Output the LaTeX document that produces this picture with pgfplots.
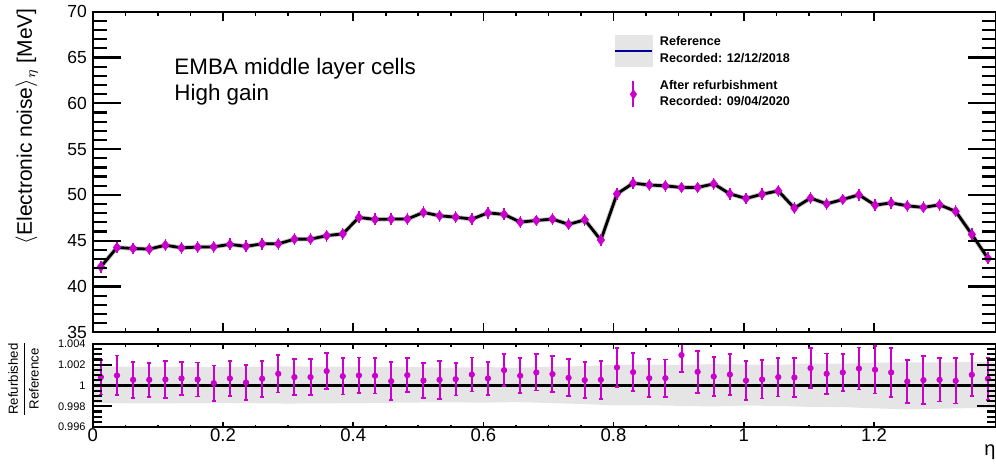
\documentclass[border=0pt]{standalone}
\usepackage{fontspec}
\setmainfont{Liberation Sans}
\usepackage{pgfplots}
\pgfplotsset{compat=1.18}
\usepackage{pgfplotstable}
\definecolor{mag}{RGB}{204,0,204}
\definecolor{bandgray}{RGB}{229,229,229}
\definecolor{refblue}{RGB}{0,0,153}

\pgfplotsset{
  toppanel/.style={
    at={(46.4pt,-5.85pt)}, anchor=north west,
    scale only axis, width=451.6pt, height=160.3pt,
    xmin=0, xmax=1.3875, ymin=35, ymax=70,
    axis line style={line width=1pt},
    tick align=inside,
    /pgf/number format/assume math mode=true,
  },
  botpanel/.style={
    at={(46.4pt,-172pt)}, anchor=north west,
    scale only axis, width=451.6pt, height=41.5pt,
    xmin=0, xmax=1.3875, ymin=0.996, ymax=1.004,
    axis line style={line width=1pt},
    tick align=inside,
    /pgf/number format/assume math mode=true,
  },
}

\pgfplotstableread{
x y
0.01239 42.15
0.03717 44.26
0.06194 44.15
0.08672 44.08
0.11150 44.51
0.13627 44.22
0.16105 44.30
0.18583 44.33
0.21060 44.60
0.23538 44.38
0.26016 44.66
0.28493 44.66
0.30971 45.17
0.33449 45.17
0.35926 45.55
0.38404 45.75
0.40882 47.54
0.43359 47.32
0.45837 47.36
0.48315 47.36
0.50792 48.09
0.53270 47.72
0.55748 47.57
0.58225 47.36
0.60703 48.04
0.63181 47.87
0.65658 47.03
0.68136 47.21
0.70614 47.36
0.73091 46.78
0.75569 47.28
0.78047 45.07
0.80525 50.11
0.83002 51.28
0.85480 51.08
0.87958 50.99
0.90435 50.81
0.92913 50.81
0.95391 51.21
0.97868 50.11
1.00346 49.61
1.02824 50.08
1.05301 50.44
1.07779 48.56
1.10257 49.65
1.12734 49.02
1.15212 49.50
1.17690 50.01
1.20167 48.88
1.22645 49.13
1.25123 48.81
1.27600 48.63
1.30078 48.92
1.32556 48.20
1.35033 45.69
1.37511 43.07
}\noisetab

% ratio (refurbished / reference) per bin
\pgfplotstableread{
x r
0.01239 1.00081
0.03717 1.00097
0.06194 1.00055
0.08672 1.00055
0.11150 1.00058
0.13627 1.00068
0.16105 1.00058
0.18583 1.00023
0.21060 1.00068
0.23538 1.00029
0.26016 1.00065
0.28493 1.00113
0.30971 1.00081
0.33449 1.00081
0.35926 1.00139
0.38404 1.00090
0.40882 1.00097
0.43359 1.00094
0.45837 1.00042
0.48315 1.00100
0.50792 1.00048
0.53270 1.00055
0.55748 1.00061
0.58225 1.00106
0.60703 1.00068
0.63181 1.00148
0.65658 1.00094
0.68136 1.00126
0.70614 1.00110
0.73091 1.00074
0.75569 1.00052
0.78047 1.00055
0.80525 1.00174
0.83002 1.00129
0.85480 1.00071
0.87958 1.00071
0.90435 1.00293
0.92913 1.00132
0.95391 1.00087
0.97868 1.00106
1.00346 1.00048
1.02824 1.00058
1.05301 1.00081
1.07779 1.00077
1.10257 1.00168
1.12734 1.00113
1.15212 1.00126
1.17690 1.00164
1.20167 1.00152
1.22645 1.00126
1.25123 1.00039
1.27600 1.00052
1.30078 1.00055
1.32556 1.00045
1.35033 1.00103
1.37511 1.00065
}\ratiotab

% error bar ends (lower, upper) per bin, separated by nan
\pgfplotstableread{
x y
0.01239 0.99913
0.01239 1.00249
0.01239 nan
0.03717 0.99905
0.03717 1.00289
0.03717 nan
0.06194 0.99883
0.06194 1.00227
0.06194 nan
0.08672 0.99891
0.08672 1.00219
0.08672 nan
0.11150 0.99876
0.11150 1.00240
0.11150 nan
0.13627 0.99907
0.13627 1.00229
0.13627 nan
0.16105 0.99894
0.16105 1.00222
0.16105 nan
0.18583 0.99854
0.18583 1.00192
0.18583 nan
0.21060 0.99902
0.21060 1.00234
0.21060 nan
0.23538 0.99861
0.23538 1.00197
0.23538 nan
0.26016 0.99893
0.26016 1.00237
0.26016 nan
0.28493 0.99933
0.28493 1.00293
0.28493 nan
0.30971 0.99907
0.30971 1.00255
0.30971 nan
0.33449 0.99907
0.33449 1.00255
0.33449 nan
0.35926 0.99965
0.35926 1.00313
0.35926 nan
0.38404 0.99914
0.38404 1.00266
0.38404 nan
0.40882 0.99925
0.40882 1.00269
0.40882 nan
0.43359 0.99923
0.43359 1.00265
0.43359 nan
0.45837 0.99857
0.45837 1.00227
0.45837 nan
0.48315 0.99936
0.48315 1.00264
0.48315 nan
0.50792 0.99882
0.50792 1.00214
0.50792 nan
0.53270 0.99870
0.53270 1.00240
0.53270 nan
0.55748 0.99903
0.55748 1.00219
0.55748 nan
0.58225 0.99942
0.58225 1.00270
0.58225 nan
0.60703 0.99908
0.60703 1.00228
0.60703 nan
0.63181 0.99996
0.63181 1.00300
0.63181 nan
0.65658 0.99926
0.65658 1.00262
0.65658 nan
0.68136 0.99952
0.68136 1.00300
0.68136 nan
0.70614 0.99936
0.70614 1.00284
0.70614 nan
0.73091 0.99895
0.73091 1.00253
0.73091 nan
0.75569 0.99878
0.75569 1.00226
0.75569 nan
0.78047 0.99871
0.78047 1.00239
0.78047 nan
0.80525 0.99984
0.80525 1.00364
0.80525 nan
0.83002 0.99947
0.83002 1.00311
0.83002 nan
0.85480 0.99890
0.85480 1.00252
0.85480 nan
0.87958 0.99892
0.87958 1.00250
0.87958 nan
0.90435 1.00132
0.90435 1.00454
0.90435 nan
0.92913 0.99931
0.92913 1.00333
0.92913 nan
0.95391 0.99900
0.95391 1.00274
0.95391 nan
0.97868 0.99905
0.97868 1.00307
0.97868 nan
1.00346 0.99863
1.00346 1.00233
1.00346 nan
1.02824 0.99874
1.02824 1.00242
1.02824 nan
1.05301 0.99894
1.05301 1.00268
1.05301 nan
1.07779 0.99890
1.07779 1.00264
1.07779 nan
1.10257 0.99978
1.10257 1.00358
1.10257 nan
1.12734 0.99918
1.12734 1.00308
1.12734 nan
1.15212 0.99945
1.15212 1.00307
1.15212 nan
1.17690 0.99961
1.17690 1.00367
1.17690 nan
1.20167 0.99922
1.20167 1.00382
1.20167 nan
1.22645 0.99891
1.22645 1.00361
1.22645 nan
1.25123 0.99831
1.25123 1.00247
1.25123 nan
1.27600 0.99823
1.27600 1.00281
1.27600 nan
1.30078 0.99845
1.30078 1.00265
1.30078 nan
1.32556 0.99826
1.32556 1.00264
1.32556 nan
1.35033 0.99902
1.35033 1.00304
1.35033 nan
1.37511 0.99862
1.37511 1.00268
1.37511 nan
}\errtab

\pgfplotstableread{
x y
0 1.00182
0.1 1.00180
0.2 1.00178
0.3 1.00184
0.4 1.00180
0.5 1.00176
0.55 1.00172
0.6 1.00178
0.65 1.00172
0.7 1.00180
0.75 1.00186
0.8 1.00198
0.85 1.00202
0.9 1.00196
0.95 1.00206
1.0 1.00202
1.05 1.00198
1.1 1.00212
1.15 1.00210
1.2 1.00220
1.25 1.00224
1.3 1.00222
1.35 1.00226
1.3875 1.00224
1.3875 0.99778
1.35 0.99782
1.3 0.99776
1.25 0.99770
1.2 0.99780
1.15 0.99792
1.1 0.99794
1.05 0.99804
1.0 0.99806
0.95 0.99798
0.9 0.99804
0.85 0.99810
0.8 0.99808
0.75 0.99822
0.7 0.99832
0.65 0.99840
0.6 0.99834
0.55 0.99838
0.5 0.99836
0.4 0.99830
0.3 0.99826
0.2 0.99832
0.1 0.99828
0 0.99830
}\bandtab

\begin{document}
\begin{tikzpicture}
\path[use as bounding box] (0pt,0pt) rectangle (498pt,-233pt);

% ---------- top panel: data + x ticks ----------
\begin{axis}[toppanel,
  xtick={0,0.2,0.4,0.6,0.8,1,1.2}, xticklabels={},
  minor x tick num=3,
  ytick=\empty,
  major tick length=4.5pt, minor tick length=2.25pt,
  every tick/.append style={line width=0.8pt, black},
  legend style={at={(0.577,0.927)}, anchor=north west, draw=none, fill=none,
    inner sep=0pt, outer sep=0pt, row sep=6.5pt, column sep=3.5pt,
    font=\fontsize{6.3}{8.35}\selectfont\bfseries,
    nodes={inner sep=0pt}, cells={align=left}},
  legend cell align=left,
]
\addlegendimage{legend image code/.code={\fill[bandgray] (0pt,-7.75pt) rectangle (18.5pt,7.75pt); \draw[refblue, line width=1pt] (0pt,0pt) -- (18.5pt,0pt);}}
\addlegendentry{Reference\\Recorded: 12/12/2018}
\addlegendimage{legend image code/.code={\draw[mag, line width=1pt] (9.25pt,-6.5pt) -- (9.25pt,6.5pt); \fill[mag] (9.25pt,-2.2pt) -- (10.8pt,0pt) -- (9.25pt,2.2pt) -- (7.7pt,0pt) -- cycle;}}
\addlegendentry{After refurbishment\\Recorded: 09/04/2020}

\addplot[gray!45, line width=2.3pt, forget plot] table[x=x,y=y]{\noisetab};
\addplot[black, line width=1.4pt, forget plot] table[x=x,y=y]{\noisetab};
\addplot[only marks, mark=diamond*, mark size=2.4pt, color=mag, forget plot,
  mark options={draw=mag, fill=mag},
  error bars/.cd, y dir=both, y fixed=0.65,
  error bar style={line width=0.7pt, draw=mag}, error mark=none]
  table[x=x,y=y]{\noisetab};
\end{axis}

% ---------- top panel: y tick labels ----------
\begin{axis}[toppanel,
  xtick=\empty,
  ytick={35,40,45,50,55,60,65,70},
  yticklabel pos=left,
  major tick length=0pt,
  yticklabel style={font=\fontsize{8.75}{10}\selectfont, inner sep=0pt, xshift=-2.75pt},
]
\end{axis}

% ---------- ratio panel: data + x ticks ----------
\begin{axis}[botpanel,
  xtick={0,0.2,0.4,0.6,0.8,1,1.2}, xticklabels={0,0.2,0.4,0.6,0.8,1,1.2},
  minor x tick num=3,
  xticklabel pos=left,
  ytick=\empty,
  major tick length=2.5pt, minor tick length=1.25pt,
  every tick/.append style={line width=0.8pt, black},
  xticklabel style={font=\fontsize{9.25}{10}\selectfont, inner sep=0pt, yshift=-0.65pt},
]
\addplot[fill=bandgray, draw=none, forget plot] table[x=x,y=y]{\bandtab} -- cycle;
\addplot[black, line width=1.35pt, forget plot] coordinates {(0,1) (1.3875,1)};
\addplot[mag, line width=1pt, unbounded coords=jump, forget plot] table[x=x,y=y]{\errtab};
\addplot[only marks, mark=-, mark size=1.1pt, mag, mark options={line width=0.9pt}, unbounded coords=jump, forget plot] table[x=x,y=y]{\errtab};
\addplot[only marks, mark=*, mark size=1.35pt, mag, mark options={draw=mag, fill=mag}, forget plot]
  table[x=x, y=r]{\ratiotab};
\end{axis}

% ---------- ratio panel: y tick labels ----------
\begin{axis}[botpanel,
  xtick=\empty,
  ytick={0.996,0.998,1,1.002,1.004}, yticklabels={0.996,0.998,1,1.002,1.004},
  yticklabel pos=left,
  major tick length=0pt,
  yticklabel style={font=\fontsize{5.5}{6}\selectfont, inner sep=0pt, xshift=-3.4pt},
]
\end{axis}

% ---------- y-axis tick marks on both frames (drawn last) ----------
\foreach \i in {0,...,35}{
  \pgfmathsetmacro{\len}{mod(\i,5)==0 ? 14 : 7}
  \pgfmathsetmacro{\yy}{-5.85-4.58*\i}
  \draw[black, line width=1.1pt] (46.4pt,\yy pt) -- ++(\len pt,0pt);
  \draw[black, line width=1.1pt] (498pt,\yy pt) -- ++(-\len pt,0pt);
}
\foreach \i in {0,...,16}{
  \pgfmathsetmacro{\len}{mod(\i,4)==0 ? 9.5 : 4.7}
  \pgfmathsetmacro{\yy}{-172-2.59375*\i}
  \draw[black, line width=1.1pt] (46.4pt,\yy pt) -- ++(\len pt,0pt);
  \draw[black, line width=1.1pt] (498pt,\yy pt) -- ++(-\len pt,0pt);
}

% ---------- texts ----------
\node[anchor=base west, font=\fontsize{11.2}{13}\selectfont, inner sep=0pt] at (87pt,-37pt) {EMBA middle layer cells};
\node[anchor=base west, font=\fontsize{11.2}{13}\selectfont, inner sep=0pt] at (87pt,-50pt) {High gain};
\node[rotate=90, anchor=base east, font=\fontsize{10.5}{12}\selectfont, inner sep=0pt] at (16pt,-4pt) {$\langle$Electronic noise$\rangle_{\eta}$ [MeV]};
\node[rotate=90, anchor=center, font=\fontsize{6.6}{8}\selectfont, inner sep=0pt] at (11.8pt,-189.5pt) {$\displaystyle\frac{\mbox{Refurbished}}{\mbox{Reference}}$};
\node[anchor=base east, font=\fontsize{10}{12}\selectfont, inner sep=0pt] at (498pt,-227.5pt) {η};
\end{tikzpicture}
\end{document}
